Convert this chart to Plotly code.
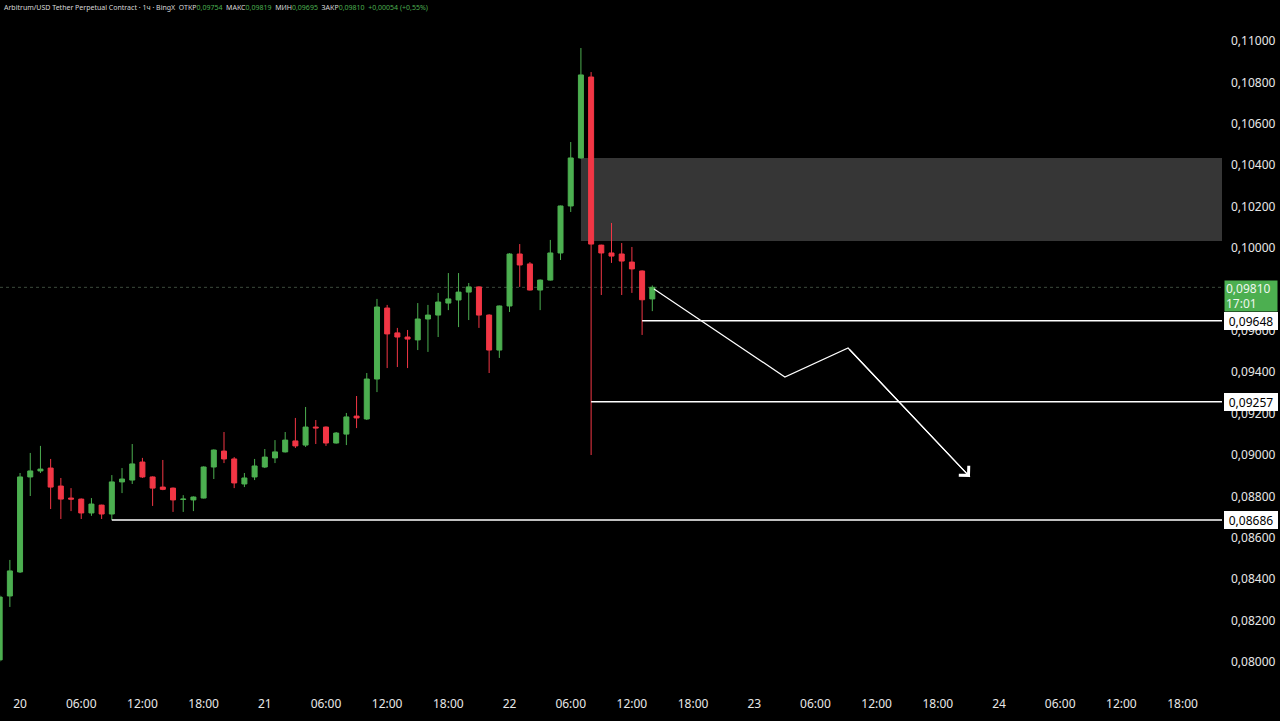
import pandas as pd
import plotly.graph_objects as go

# Hourly candles, ARB/USDT perp (BingX), 19th 22:00 -> 22nd 14:00
opens = [0.08010, 0.08319, 0.08435, 0.08894, 0.08923, 0.08937, 0.08850, 0.08792, 0.08787, 0.08720,
         0.08758, 0.08715, 0.08870, 0.08879, 0.08966, 0.08894, 0.08845, 0.08840, 0.08785, 0.08783,
         0.08792, 0.08942, 0.09019, 0.08981, 0.08860, 0.08894, 0.08942, 0.08986, 0.09015, 0.09068,
         0.09048, 0.09135, 0.09135, 0.09058, 0.09101, 0.09188, 0.09174, 0.09367, 0.09710, 0.09590,
         0.09570, 0.09556, 0.09657, 0.09676, 0.09734, 0.09749, 0.09787, 0.09812, 0.09676, 0.09507,
         0.09720, 0.09971, 0.09923, 0.09797, 0.09845, 0.09976, 0.10203, 0.10435, 0.10826, 0.10014,
         0.09976, 0.09971, 0.09932, 0.09889, 0.09754]
highs = [0.08324, 0.08493, 0.08913, 0.09010, 0.09044, 0.08981, 0.08889, 0.08840, 0.08790, 0.08792,
         0.08760, 0.08903, 0.08937, 0.09053, 0.08986, 0.08897, 0.08976, 0.08843, 0.08806, 0.08800,
         0.08945, 0.09027, 0.09111, 0.08990, 0.08913, 0.08981, 0.09029, 0.09072, 0.09111, 0.09179,
         0.09232, 0.09169, 0.09138, 0.09111, 0.09203, 0.09285, 0.09396, 0.09754, 0.09725, 0.09614,
         0.09604, 0.09734, 0.09725, 0.09783, 0.09879, 0.09879, 0.09831, 0.09815, 0.09680, 0.09722,
         0.09975, 0.10019, 0.09932, 0.09848, 0.10039, 0.10205, 0.10512, 0.10966, 0.10850, 0.10016,
         0.10121, 0.10024, 0.10005, 0.09892, 0.09819]
lows = [0.08000, 0.08266, 0.08430, 0.08802, 0.08913, 0.08739, 0.08691, 0.08729, 0.08691, 0.08706,
        0.08691, 0.08686, 0.08816, 0.08860, 0.08889, 0.08754, 0.08830, 0.08725, 0.08725, 0.08729,
        0.08790, 0.08884, 0.08961, 0.08840, 0.08845, 0.08879, 0.08937, 0.08961, 0.09012, 0.09034,
        0.09039, 0.09053, 0.09044, 0.09055, 0.09048, 0.09130, 0.09169, 0.09304, 0.09420, 0.09425,
        0.09420, 0.09507, 0.09498, 0.09570, 0.09700, 0.09618, 0.09652, 0.09614, 0.09396, 0.09469,
        0.09691, 0.09812, 0.09795, 0.09700, 0.09843, 0.09942, 0.10174, 0.10432, 0.09000, 0.09773,
        0.09928, 0.09773, 0.09783, 0.09580, 0.09695]
closes = [0.08314, 0.08440, 0.08894, 0.08923, 0.08932, 0.08845, 0.08787, 0.08787, 0.08720, 0.08763,
          0.08715, 0.08870, 0.08884, 0.08957, 0.08894, 0.08840, 0.08834, 0.08783, 0.08787, 0.08797,
          0.08942, 0.09024, 0.08981, 0.08865, 0.08889, 0.08947, 0.08990, 0.09015, 0.09072, 0.09044,
          0.09135, 0.09131, 0.09058, 0.09106, 0.09184, 0.09179, 0.09367, 0.09715, 0.09585, 0.09570,
          0.09560, 0.09657, 0.09676, 0.09739, 0.09754, 0.09787, 0.09812, 0.09676, 0.09507, 0.09720,
          0.09971, 0.09918, 0.09797, 0.09845, 0.09976, 0.10203, 0.10435, 0.10836, 0.10019, 0.09976,
          0.09961, 0.09937, 0.09899, 0.09750, 0.09810]
times = pd.date_range("2025-12-19 22:00", periods=len(opens), freq="h")

last_price = 0.09810
# supply zone (grey box)
zone_start = "2025-12-22 07:00"
zone_top = 0.10435
zone_bottom = 0.10034
# horizontal levels: (start time, price)
levels = [("2025-12-20 09:00", 0.08686), ("2025-12-22 08:00", 0.09257), ("2025-12-22 13:00", 0.09648)]
# projected path
path_x = ["2025-12-22 14:10", "2025-12-23 03:00", "2025-12-23 09:12", "2025-12-23 21:09"]
path_y = [0.09802, 0.09377, 0.09517, 0.08894]

tick_vals = ["2025-12-20 00:00", "2025-12-20 06:00", "2025-12-20 12:00", "2025-12-20 18:00",
             "2025-12-21 00:00", "2025-12-21 06:00", "2025-12-21 12:00", "2025-12-21 18:00",
             "2025-12-22 00:00", "2025-12-22 06:00", "2025-12-22 12:00", "2025-12-22 18:00",
             "2025-12-23 00:00", "2025-12-23 06:00", "2025-12-23 12:00", "2025-12-23 18:00",
             "2025-12-24 00:00", "2025-12-24 06:00", "2025-12-24 12:00", "2025-12-24 18:00"]
tick_text = ["20", "06:00", "12:00", "18:00", "21", "06:00", "12:00", "18:00",
             "22", "06:00", "12:00", "18:00", "23", "06:00", "12:00", "18:00",
             "24", "06:00", "12:00", "18:00"]

GREEN = "#4caf50"
RED = "#f23645"

fig = go.Figure()

fig.add_trace(
    go.Candlestick(
        x=times, open=opens, high=highs, low=lows, close=closes,
        increasing=dict(line=dict(color=GREEN, width=1), fillcolor=GREEN),
        decreasing=dict(line=dict(color=RED, width=1), fillcolor=RED),
        showlegend=False, hoverinfo="skip",
    )
)

fig.add_trace(
    go.Scatter(
        x=path_x, y=path_y, mode="lines",
        line=dict(color="white", width=1.2),
        showlegend=False, hoverinfo="skip",
    )
)

# arrow head at the end of the path
fig.add_annotation(
    x=path_x[-1], y=path_y[-1], ax=path_x[-2], ay=path_y[-2],
    xref="x", yref="y", axref="x", ayref="y",
    text="", showarrow=True, arrowhead=4, arrowsize=2.2, arrowwidth=1.2, arrowcolor="white",
)

fig.add_shape(
    type="rect", xref="x", yref="y", x0=zone_start, x1="2025-12-26", y0=zone_bottom, y1=zone_top,
    fillcolor="#363636", line=dict(width=0), layer="below",
)
fig.add_shape(
    type="line", xref="paper", yref="y", x0=0, x1=1, y0=last_price, y1=last_price,
    line=dict(color="#3c4a3c", width=1, dash="dot"), layer="below",
)
for start, price in levels:
    fig.add_shape(
        type="line", xref="x", yref="y", x0=start, x1="2025-12-26", y0=price, y1=price,
        line=dict(color="white", width=1.5),
    )
    fig.add_annotation(
        x=1, xref="paper", y=price, yref="y", xanchor="left", xshift=2,
        text=f"{price:.5f}".replace(".", ","), showarrow=False,
        bgcolor="white", font=dict(color="black", size=12), borderpad=1,
        bordercolor="white", width=50, height=14,
    )

fig.add_annotation(
    x=1, xref="paper", y=last_price, yref="y", xanchor="left", yanchor="top", xshift=2, yshift=7,
    text=f"{last_price:.5f}".replace(".", ",") + "<br>17:01", align="left", showarrow=False,
    bgcolor=GREEN, font=dict(color="#eef6ee", size=12), borderpad=1, width=50, height=28,
)

head = (
    "Arbitrum/USD Tether Perpetual Contract · 1ч · BingX  "
    "ОТКР<span style='color:#4caf50'>0,09754</span>  "
    "МАКС<span style='color:#4caf50'>0,09819</span>  "
    "МИН<span style='color:#4caf50'>0,09695</span>  "
    "ЗАКР<span style='color:#4caf50'>0,09810</span>  "
    "<span style='color:#4caf50'>+0,00054 (+0,55%)</span>"
)
fig.add_annotation(
    x=0, xref="paper", y=1, yref="paper", xanchor="left", yanchor="top", xshift=2, yshift=-1,
    text=head, showarrow=False, font=dict(color="#d8d8d8", size=7), align="left",
)

fig.update_layout(
    width=1280, height=721,
    margin=dict(l=0, r=58, t=0, b=26),
    paper_bgcolor="black", plot_bgcolor="black",
    font=dict(family="Noto Sans", color="white", size=12),
    separators=",.",
    xaxis=dict(
        type="date", range=["2025-12-19 22:02", "2025-12-24 21:52"],
        tickvals=tick_vals, ticktext=tick_text, showgrid=False, zeroline=False,
        rangeslider=dict(visible=False), ticks="", tickfont=dict(size=12, color="#e8e8e8"),
        showline=False, fixedrange=True,
    ),
    yaxis=dict(
        side="right", range=[0.078406, 0.111981], dtick=0.002, tick0=0.08, tickformat=".5f",
        showgrid=False, zeroline=False, ticks="", ticklabelstandoff=8,
        tickfont=dict(size=12, color="#e8e8e8"), showline=False, fixedrange=True,
    ),
    hovermode=False,
)

# page body has a default 8px margin; drop it so the figure fills the window
fig.write_html(
    "out.html",
    config={"displayModeBar": False},
    post_script="document.body.style.margin='0';document.body.style.background='black';",
)
